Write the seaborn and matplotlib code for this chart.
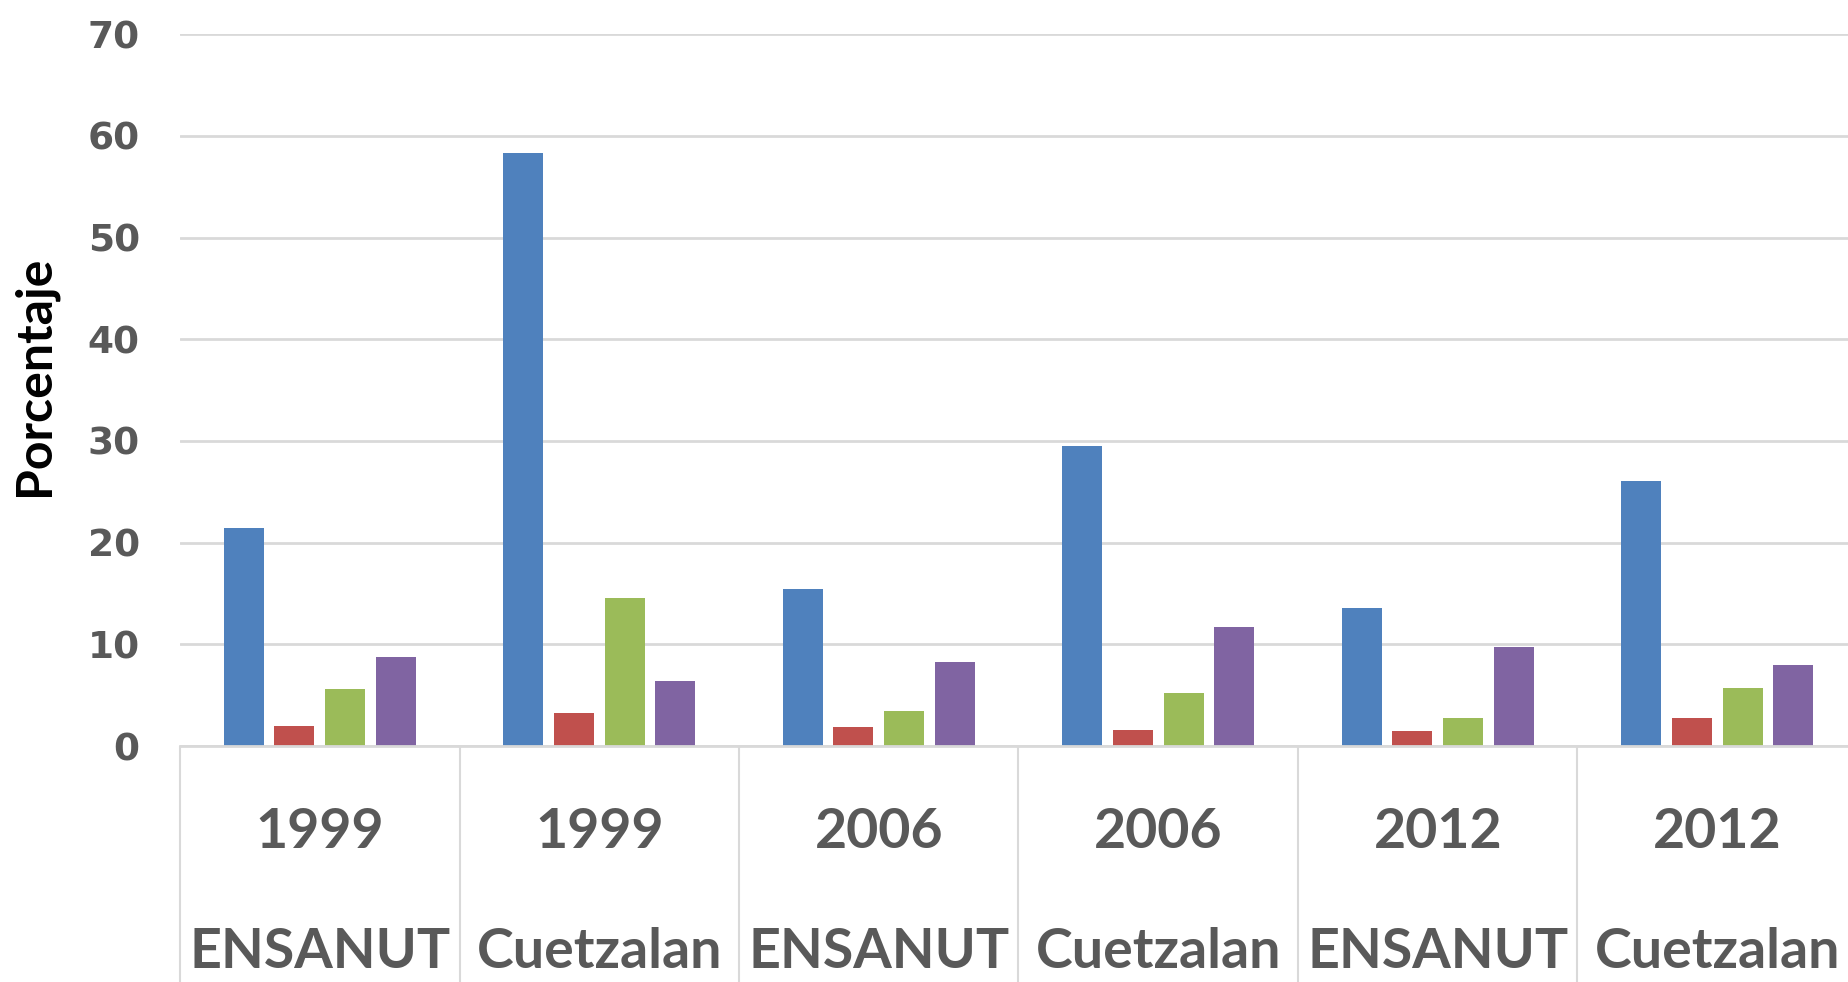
import matplotlib
matplotlib.use("Agg")
import matplotlib.pyplot as plt
import numpy as np
import pandas as pd
import seaborn as sns

# Data (percentages).
years = ["1999", "1999", "2006", "2006", "2012", "2012"]
sources = ["ENSANUT", "Cuetzalan", "ENSANUT", "Cuetzalan", "ENSANUT", "Cuetzalan"]
serie_1 = [21.4, 58.3, 15.4, 29.5, 13.6, 26.1]
serie_2 = [2.0, 3.2, 1.9, 1.6, 1.5, 2.8]
serie_3 = [5.6, 14.6, 3.4, 5.2, 2.8, 5.7]
serie_4 = [8.8, 6.4, 8.3, 11.7, 9.7, 8.0]
series_names = ["Serie 1", "Serie 2", "Serie 3", "Serie 4"]
y_ticks = [0, 10, 20, 30, 40, 50, 60, 70]

colors = ["#4F81BD", "#C0504D", "#9BBB59", "#8064A2"]
grey_text = "#595959"
grid_col = "#D9D9D9"

categories = [f"{y}\n{s}" for y, s in zip(years, sources)]
rows = []
for name, vals in zip(series_names, [serie_1, serie_2, serie_3, serie_4]):
    for i, v in enumerate(vals):
        rows.append({"cat": i, "serie": name, "valor": v})
df = pd.DataFrame(rows)

sns.set_style("white")
plt.rcParams["font.family"] = ["DejaVu Sans"]

fig = plt.figure(figsize=(18.49, 9.82), dpi=100)
ax = fig.add_axes([180 / 1849, 0.2403, 1677 / 1849, 0.7249])

sns.barplot(data=df, x="cat", y="valor", hue="serie", hue_order=series_names,
            palette=colors, width=0.726, gap=0.21, saturation=1,
            legend=False, ax=ax, edgecolor="none")

ax.set_xlim(-0.5, 5.5)
ax.set_ylim(0, 70)
ax.set_yticks(y_ticks)
ax.yaxis.grid(True, color=grid_col, linewidth=2)
ax.set_axisbelow(True)
for side in ["top", "right", "left"]:
    ax.spines[side].set_visible(False)
ax.spines["bottom"].set_color(grid_col)
ax.spines["bottom"].set_linewidth(2)

ax.tick_params(axis="y", length=0, pad=29, labelsize=27, labelcolor=grey_text)
for lab in ax.get_yticklabels():
    lab.set_fontweight("bold")

ax.set_xticks(range(len(categories)))
ax.set_xticklabels(categories, fontfamily="Lato", fontweight="bold",
                   fontsize=40, color=grey_text, linespacing=2.7)
ax.tick_params(axis="x", which="major", length=0, pad=44)
# separators between categories
ax.set_xticks(np.arange(-0.5, 6.0, 1.0), minor=True)
ax.tick_params(axis="x", which="minor", bottom=True, length=175, width=1.5,
               color=grid_col)

ax.set_xlabel("")
ax.set_ylabel("Porcentaje", fontfamily="Lato", fontweight="bold",
              fontsize=36, color="black")
ax.yaxis.set_label_coords(-0.0736, 0.52)

fig.savefig("out.png", dpi=100)
